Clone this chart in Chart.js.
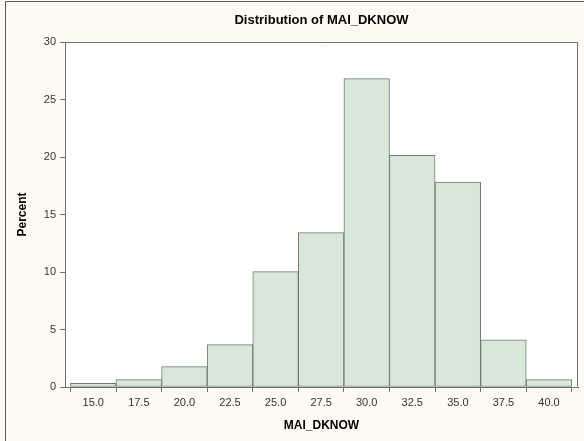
<!DOCTYPE html>
<html>
<head>
<meta charset="utf-8">
<style>
  html, body { margin: 0; padding: 0; background: #fdfaf3; }
  #wrap { width: 584px; height: 441px; position: relative; }
  canvas { display: block; }
</style>
<script src="https://cdn.jsdelivr.net/npm/chart.js@4/dist/chart.umd.min.js"></script>
</head>
<body>
<div id="wrap"><canvas id="hist" width="584" height="441"></canvas></div>
<script>
// Histogram bins (midpoints) and the percent of observations in each
const midpoints = [15.0, 17.5, 20.0, 22.5, 25.0, 27.5, 30.0, 32.5, 35.0, 37.5, 40.0];
const percents  = [0.32, 0.64, 1.77, 3.69, 10.03, 13.43, 26.82, 20.15, 17.83, 4.1, 0.64];
const xTickValues = [15.0, 17.5, 20.0, 22.5, 25.0, 27.5, 30.0, 32.5, 35.0, 37.5, 40.0];
const yTickValues = [0, 5, 10, 15, 20, 25, 30];

const FONT = "'Liberation Sans', Arial, sans-serif";
const AXIS = '#707070';

// Page background, white plot area, outer frame and plot frame
const framePlugin = {
  id: 'framePlugin',
  beforeDraw(chart) {
    const { ctx, chartArea: a, width, height } = chart;
    ctx.save();
    ctx.fillStyle = '#fdfaf3';
    ctx.fillRect(0, 0, width, height);
    ctx.fillStyle = '#ffffff';
    ctx.fillRect(a.left, a.top, a.right - a.left, a.bottom - a.top);
    ctx.strokeStyle = '#5a5a5a';
    ctx.lineWidth = 1;
    ctx.beginPath();
    ctx.moveTo(5.5, height);
    ctx.lineTo(5.5, 1.5);
    ctx.lineTo(width, 1.5);
    ctx.stroke();
    ctx.restore();
  },
  afterDraw(chart) {
    const { ctx, chartArea: a } = chart;
    ctx.save();
    ctx.strokeStyle = AXIS;
    ctx.lineWidth = 1;
    ctx.beginPath();
    ctx.moveTo(Math.round(a.left) + 0.5, Math.round(a.top) + 0.5);
    ctx.lineTo(Math.round(a.right) - 0.5, Math.round(a.top) + 0.5);
    ctx.lineTo(Math.round(a.right) - 0.5, Math.round(a.bottom) - 0.5);
    ctx.stroke();
    ctx.restore();
  }
};

new Chart(document.getElementById('hist'), {
  type: 'bar',
  data: {
    datasets: [{
      data: midpoints.map((m, i) => ({ x: m, y: percents[i] })),
      backgroundColor: '#d7e7d8',
      borderColor: '#6f7d70',
      borderWidth: 1,
      borderSkipped: false,
      barPercentage: 1.0,
      categoryPercentage: 1.0
    }]
  },
  options: {
    responsive: false,
    animation: false,
    devicePixelRatio: 1,
    layout: { padding: { left: 0, right: 6, top: 0, bottom: 0 } },
    plugins: {
      legend: { display: false },
      tooltip: { enabled: false },
      title: {
        display: true,
        fullSize: false,
        text: 'Distribution of MAI_DKNOW',
        color: '#000000',
        font: { family: FONT, size: 13, weight: 'bold', lineHeight: 1.2 },
        padding: { top: 12.4, bottom: 14 }
      }
    },
    scales: {
      x: {
        type: 'linear',
        min: 13.45,
        max: 41.59,
        offset: false,
        afterBuildTicks: s => { s.ticks = xTickValues.map(v => ({ value: v })); },
        afterFit: s => { s.height = 54; },
        ticks: {
          autoSkip: false,
          maxRotation: 0,
          padding: 4,
          color: '#333333',
          font: { family: FONT, size: 11 },
          callback: v => Number(v).toFixed(1)
        },
        grid: { display: true, drawOnChartArea: false, drawTicks: true, tickLength: 5, color: AXIS },
        border: { display: true, color: AXIS },
        title: {
          display: true,
          text: 'MAI_DKNOW',
          color: '#000000',
          font: { family: FONT, size: 12, weight: 'bold', lineHeight: 1.2 },
          padding: { top: 0, bottom: 8 }
        }
      },
      y: {
        min: 0,
        max: 30,
        afterBuildTicks: s => { s.ticks = yTickValues.map(v => ({ value: v })); },
        afterFit: s => { s.width = 65; },
        ticks: {
          padding: 4,
          color: '#333333',
          font: { family: FONT, size: 11 }
        },
        grid: { display: true, drawOnChartArea: false, drawTicks: true, tickLength: 5, color: AXIS },
        border: { display: true, color: AXIS },
        title: {
          display: true,
          text: 'Percent',
          color: '#000000',
          font: { family: FONT, size: 12, weight: 'bold', lineHeight: 1.2 },
          padding: { top: 15, bottom: 0 }
        }
      }
    }
  },
  plugins: [framePlugin]
});
</script>
</body>
</html>
